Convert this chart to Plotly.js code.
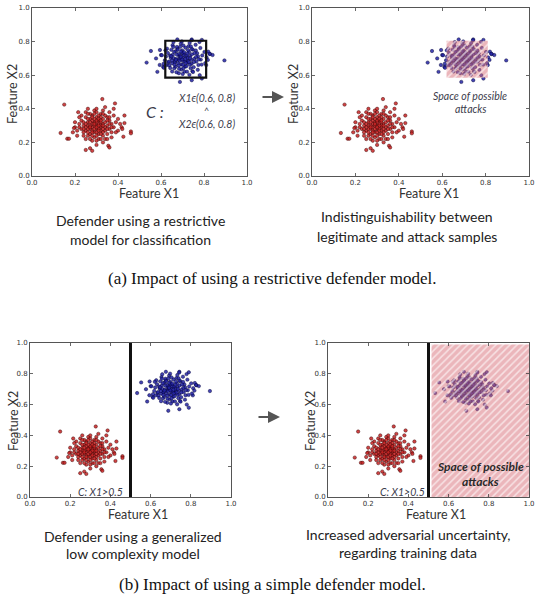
<!DOCTYPE html>
<html>
<head>
<meta charset="utf-8">
<script src="https://cdn.plot.ly/plotly-3.0.1.min.js"></script>
<style>html,body{margin:0;padding:0;background:#fff;}#chart{width:545px;height:610px;}</style>
</head>
<body>
<div id="chart"></div>
<script>
// ---- data ----
const redX = [0.133,0.150,0.164,0.172,0.327,0.386,0.460,0.460,0.250,0.270,0.280,0.355,0.360,0.300,0.425,0.417,0.430,0.215,0.200,0.195,
0.30,0.28,0.32,0.31,0.27,0.29,0.33,0.35,0.26,0.24,
0.25,0.34,0.36,0.30,0.28,0.32,0.27,0.23,0.22,0.31,
0.29,0.33,0.26,0.38,0.39,0.37,0.35,0.30,0.29,0.31,
0.28,0.32,0.26,0.34,0.30,0.27,0.33,0.25,0.24,0.36,
0.31,0.28,0.34,0.22,0.21,0.40,0.41,0.38,0.36,0.33,
0.29,0.25,0.27,0.23,0.31,0.35,0.37,0.32,0.29,0.26,
0.30,0.32,0.28,0.27,0.25,0.24,0.30,0.34,0.31,0.33,
0.29,0.35,0.26,0.30,0.32,0.28,0.27,0.31,0.29,0.33,
0.36,0.23,0.24,0.27,0.30,0.33,0.37,0.39,0.40,0.42,
0.43,0.38,0.34,0.30,0.26,0.22,0.20,0.19,0.21,0.25,
0.28,0.32,0.35,0.26,0.29,0.31,0.34,0.36,0.28,0.32,
0.30,0.27,0.33,0.25,0.35,0.29,0.31,0.32,0.28,0.30,
0.24,0.37,0.26,0.33];
const redY = [0.256,0.425,0.222,0.222,0.458,0.432,0.265,0.254,0.155,0.165,0.150,0.180,0.170,0.185,0.234,0.290,0.315,0.380,0.290,0.285,
0.30,0.31,0.29,0.33,0.28,0.26,0.31,0.30,0.32,0.30,
0.27,0.27,0.33,0.35,0.36,0.37,0.34,0.33,0.29,0.25,
0.23,0.24,0.24,0.29,0.32,0.26,0.35,0.28,0.32,0.31,
0.29,0.27,0.30,0.32,0.32,0.30,0.34,0.35,0.26,0.28,
0.22,0.21,0.22,0.31,0.27,0.27,0.31,0.36,0.38,0.39,
0.39,0.38,0.37,0.36,0.36,0.25,0.31,0.32,0.30,0.28,
0.26,0.30,0.27,0.25,0.29,0.32,0.33,0.29,0.28,0.26,
0.28,0.28,0.34,0.38,0.35,0.33,0.32,0.30,0.34,0.30,
0.31,0.28,0.24,0.22,0.21,0.20,0.23,0.26,0.34,0.28,
0.36,0.40,0.41,0.40,0.40,0.35,0.32,0.26,0.24,0.22,
0.24,0.22,0.22,0.26,0.37,0.34,0.36,0.35,0.35,0.33,
0.29,0.29,0.28,0.31,0.33,0.31,0.27,0.25,0.26,0.24,
0.28,0.29,0.37,0.37];
const blueX = [0.533,0.553,0.895,0.583,0.688,0.743,0.790,0.828,0.840,0.676,0.743,0.790,0.595,0.600,0.577,0.610,0.626,0.820,0.810,0.780,
0.70,0.685,0.725,0.705,0.665,0.695,0.735,0.755,0.655,0.645,
0.652,0.742,0.768,0.698,0.676,0.728,0.668,0.632,0.618,0.712,
0.694,0.738,0.662,0.785,0.792,0.774,0.748,0.703,0.688,0.716,
0.681,0.722,0.659,0.744,0.706,0.671,0.731,0.648,0.639,0.764,
0.709,0.683,0.746,0.623,0.612,0.806,0.812,0.783,0.761,0.733,
0.692,0.654,0.674,0.628,0.714,0.752,0.772,0.719,0.691,0.664,
0.702,0.724,0.679,0.668,0.651,0.642,0.699,0.741,0.711,0.734,
0.687,0.753,0.661,0.704,0.726,0.682,0.673,0.713,0.693,0.736,
0.763,0.634,0.643,0.672,0.701,0.732,0.771,0.789,0.802,0.818,
0.826,0.779,0.742,0.697,0.658,0.621,0.604,0.594,0.613,0.652,
0.684,0.721,0.749,0.663,0.689,0.708,0.743,0.762,0.678,0.723,
0.698,0.669,0.729,0.647,0.756,0.692,0.715,0.718,0.683,0.704,
0.637,0.776,0.657,0.739];
const blueY = [0.675,0.744,0.688,0.620,0.560,0.570,0.580,0.726,0.720,0.813,0.813,0.810,0.750,0.720,0.700,0.650,0.660,0.740,0.660,0.600,
0.705,0.712,0.688,0.728,0.682,0.664,0.714,0.698,0.722,0.703,
0.671,0.668,0.731,0.748,0.758,0.772,0.742,0.732,0.689,0.652,
0.634,0.642,0.641,0.693,0.718,0.661,0.752,0.684,0.719,0.709,
0.692,0.674,0.701,0.724,0.721,0.697,0.738,0.751,0.658,0.681,
0.621,0.612,0.624,0.711,0.668,0.672,0.706,0.762,0.781,0.792,
0.788,0.779,0.768,0.758,0.763,0.648,0.712,0.718,0.699,0.679,
0.662,0.702,0.671,0.652,0.688,0.717,0.733,0.691,0.683,0.663,
0.686,0.679,0.739,0.777,0.749,0.727,0.723,0.696,0.741,0.702,
0.708,0.677,0.643,0.618,0.607,0.602,0.632,0.663,0.738,0.691,
0.727,0.798,0.808,0.801,0.797,0.748,0.719,0.661,0.644,0.622,
0.638,0.621,0.619,0.662,0.769,0.737,0.756,0.747,0.752,0.729,
0.694,0.691,0.679,0.713,0.731,0.709,0.672,0.653,0.658,0.641,
0.681,0.694,0.768,0.771];

const tickVals = [0, 0.2, 0.4, 0.6, 0.8, 1.0];
const tickText = ['0.0', '0.2', '0.4', '0.6', '0.8', '1.0'];

// restrictive model box (X1 in (0.6,0.8), X2 in (0.6,0.8) as drawn)
const boxX = [0.62, 0.81];
const boxY = [0.585, 0.805];
// simple model threshold and attack half-space
const threshold = 0.5;
const spaceX = [0.515, 1.0];
const spaceY = [0.0, 0.99];

// ---- build ----
const redMarker = {size: 3.4, color: 'rgba(200,35,35,0.85)', line: {color: 'rgba(50,0,0,0.85)', width: 0.5}};
const blueMarker = {size: 3.4, color: 'rgba(35,35,165,0.85)', line: {color: 'rgba(0,0,50,0.85)', width: 0.5}};
const pinkFill = 'rgba(215,110,120,0.5)';
const hatch = {shape: '/', bgcolor: pinkFill, fgcolor: '#ffffff', fgopacity: 0.6, size: 5, solidity: 0.3};

const traces = [];
['', '2', '3', '4'].forEach(s => {
  traces.push({type: 'scatter', mode: 'markers', x: redX, y: redY, xaxis: 'x' + s, yaxis: 'y' + s, marker: redMarker, hoverinfo: 'skip'});
  traces.push({type: 'scatter', mode: 'markers', x: blueX, y: blueY, xaxis: 'x' + s, yaxis: 'y' + s, marker: blueMarker, hoverinfo: 'skip'});
});
traces.push({type: 'scatter', mode: 'none', xaxis: 'x2', yaxis: 'y2',
  x: [boxX[0], boxX[1], boxX[1], boxX[0], boxX[0]], y: [boxY[0], boxY[0], boxY[1], boxY[1], boxY[0]],
  fill: 'toself', fillcolor: pinkFill, fillpattern: hatch, hoverinfo: 'skip'});
traces.push({type: 'scatter', mode: 'none', xaxis: 'x4', yaxis: 'y4',
  x: [spaceX[0], spaceX[1], spaceX[1], spaceX[0], spaceX[0]], y: [spaceY[0], spaceY[0], spaceY[1], spaceY[1], spaceY[0]],
  fill: 'toself', fillcolor: pinkFill, fillpattern: hatch, hoverinfo: 'skip'});

function ax(domain, anchor) {
  return {domain: domain, anchor: anchor, range: [0, 1], tickvals: tickVals, ticktext: tickText,
    ticks: 'inside', ticklen: 3, tickwidth: 0.8, tickcolor: '#444', showline: true, linecolor: '#555', linewidth: 1,
    mirror: 'ticks', showgrid: false, zeroline: false, fixedrange: true,
    tickfont: {family: 'DejaVu Sans', size: 7, color: '#333'}};
}
const W = 545, H = 610;
const px = v => v / W, py = v => 1 - v / H;

const layout = {
  width: W, height: H, margin: {l: 0, r: 0, t: 0, b: 0}, showlegend: false,
  paper_bgcolor: '#fff', plot_bgcolor: '#fff',
  xaxis: ax([px(32), px(247)], 'y'), yaxis: ax([py(176), py(8)], 'x'),
  xaxis2: ax([px(312), px(529)], 'y2'), yaxis2: ax([py(176), py(8)], 'x2'),
  xaxis3: ax([px(30), px(231)], 'y3'), yaxis3: ax([py(497), py(343)], 'x3'),
  xaxis4: ax([px(328), px(529)], 'y4'), yaxis4: ax([py(497), py(343)], 'x4'),
  shapes: [
    {type: 'rect', xref: 'x', yref: 'y', x0: boxX[0], x1: boxX[1], y0: boxY[0], y1: boxY[1], line: {color: '#111', width: 2.2}},
    {type: 'line', xref: 'x3', yref: 'y3', x0: threshold, x1: threshold, y0: 0, y1: 1, line: {color: '#111', width: 3}},
    {type: 'line', xref: 'x4', yref: 'y4', x0: threshold, x1: threshold, y0: 0, y1: 1, line: {color: '#111', width: 3}}
  ],
  annotations: []
};
const A = layout.annotations;
function txt(xref, yref, x, y, text, font, extra) {
  A.push(Object.assign({xref: xref, yref: yref, x: x, y: y, text: text, showarrow: false, font: font, xanchor: 'center', yanchor: 'middle'}, extra || {}));
}
const axFont = {family: 'Lato', size: 12.5, color: '#333'};
// axis titles
[[149, 193], [429, 193], [138, 514], [436, 514]].forEach(p => txt('paper', 'paper', px(p[0]), py(p[1]), 'Feature X1', axFont));
[[13, 94], [294, 94], [13, 421], [310, 421]].forEach(p => txt('paper', 'paper', px(p[0]), py(p[1]), 'Feature X2', axFont, {textangle: -90}));
// in-plot text
const itFont = {family: 'Lato', size: 10.5, color: '#3c3c4c'};
txt('x', 'y', 0.57, 0.385, '<i>C :</i>', {family: 'Lato', size: 16, color: '#3c3c4c'});
txt('x', 'y', 0.81, 0.466, '<i>X1ϵ(0.6, 0.8)</i>', itFont);
txt('x', 'y', 0.81, 0.39, '^', {family: 'Lato', size: 9, color: '#3c3c4c'});
txt('x', 'y', 0.81, 0.31, '<i>X2ϵ(0.6, 0.8)</i>', itFont);
txt('x2', 'y2', 0.73, 0.476, '<i>Space of possible</i>', itFont);
txt('x2', 'y2', 0.73, 0.397, '<i>attacks</i>', itFont);
txt('x3', 'y3', 0.35, 0.035, '<i>C: X1>0.5</i>', itFont);
txt('x4', 'y4', 0.37, 0.035, '<i>C: X1>0.5</i>', itFont);
txt('x4', 'y4', 0.76, 0.197, '<b><i>Space of possible</i></b>', {family: 'Lato', size: 12, color: '#2a2a2a'});
txt('x4', 'y4', 0.76, 0.10, '<b><i>attacks</i></b>', {family: 'Lato', size: 12, color: '#2a2a2a'});
// arrows
A.push({xref: 'paper', yref: 'paper', x: px(284), y: py(97), ax: -23, ay: 0, text: '', showarrow: true, arrowhead: 2, arrowsize: 1.2, arrowwidth: 2, arrowcolor: '#555'});
A.push({xref: 'paper', yref: 'paper', x: px(280), y: py(417), ax: -23, ay: 0, text: '', showarrow: true, arrowhead: 2, arrowsize: 1.2, arrowwidth: 2, arrowcolor: '#555'});
// captions
const capFont = {family: 'Lato', size: 14, color: '#222'};
txt('paper', 'paper', px(140), py(221), 'Defender using a restrictive', capFont);
txt('paper', 'paper', px(140), py(239), 'model for classification', capFont);
txt('paper', 'paper', px(407), py(216), 'Indistinguishability between', capFont);
txt('paper', 'paper', px(407), py(236), 'legitimate and attack samples', capFont);
txt('paper', 'paper', px(133), py(536), 'Defender using a generalized', capFont);
txt('paper', 'paper', px(133), py(553), 'low complexity model', capFont);
txt('paper', 'paper', px(408), py(534), 'Increased adversarial uncertainty,', capFont);
txt('paper', 'paper', px(408), py(552), 'regarding training data', capFont);
const subFont = {family: 'Liberation Serif', size: 17, color: '#111'};
txt('paper', 'paper', px(272), py(278), '(a) Impact of using a restrictive defender model.', subFont);
txt('paper', 'paper', px(272), py(584), '(b) Impact of using a simple defender model.', subFont);

Plotly.newPlot('chart', traces, layout, {staticPlot: true, displayModeBar: false});
</script>
</body>
</html>
